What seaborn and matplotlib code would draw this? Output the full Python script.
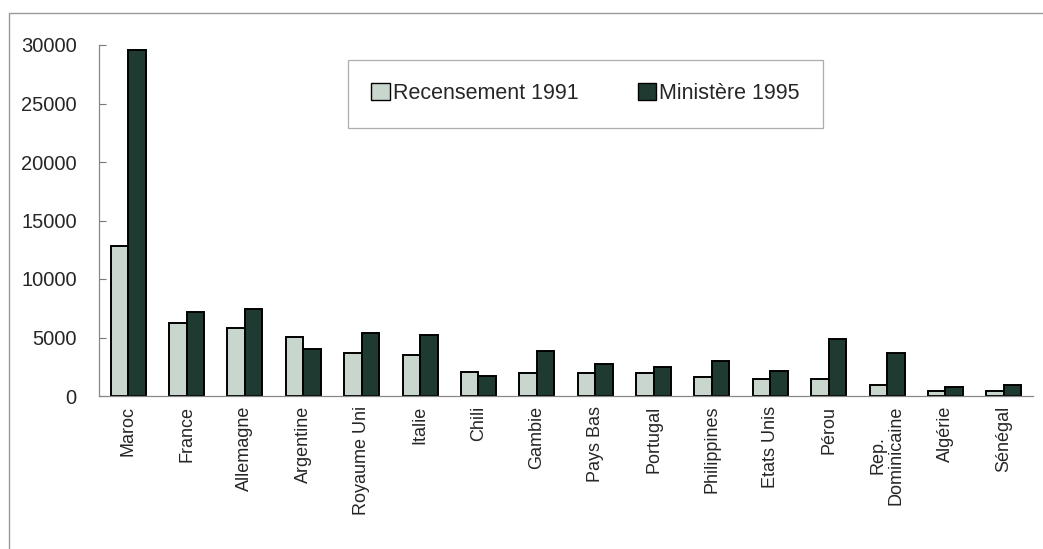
import matplotlib
matplotlib.use('Agg')
import matplotlib.pyplot as plt
from matplotlib.lines import Line2D
from matplotlib.patches import Patch
import seaborn as sns
import pandas as pd
import numpy as np

countries = ['Maroc', 'France', 'Allemagne', 'Argentine', 'Royaume Uni', 'Italie',
             'Chili', 'Gambie', 'Pays Bas', 'Portugal', 'Philippines', 'Etats Unis',
             'Pérou', 'Rep.\nDominicaine', 'Algérie', 'Sénégal']
recensement_1991 = [12800, 6220, 5840, 5020, 3650, 3480, 2080, 1940, 1940, 1940,
                    1600, 1480, 1480, 940, 400, 400]
ministere_1995 = [29600, 7200, 7440, 3990, 5360, 5190, 1740, 3820, 2760, 2450,
                  2990, 2110, 4870, 3650, 770, 940]
series = ['Recensement 1991', 'Ministère 1995']
colors = ['#c9d6cd', '#1f3a30']

df = pd.DataFrame({
    'pays': countries * 2,
    'valeur': recensement_1991 + ministere_1995,
    'source': [series[0]] * len(countries) + [series[1]] * len(countries),
})

sns.set_style('white')
plt.rcParams['font.family'] = ['Liberation Sans', 'DejaVu Sans']

fig = plt.figure(figsize=(10.43, 5.49), dpi=100)
ax = fig.add_axes([99 / 1043, 1 - 396 / 549, (1033 - 99) / 1043, (396 - 45) / 549])

sns.barplot(data=df, x='pays', y='valeur', hue='source', hue_order=series,
            palette=colors, width=0.6, edgecolor='black', linewidth=1.4,
            saturation=1, ax=ax, legend=False)

ax.set_ylim(0, 30000)
ax.set_xlim(-0.5, len(countries) - 0.5)
ax.set_yticks(np.arange(0, 30001, 5000))
ax.set_yticklabels([str(v) for v in range(0, 30001, 5000)], fontsize=14.5)
ax.set_xlabel('')
ax.set_ylabel('')
ax.set_xticks(range(len(countries)))
ax.set_xticklabels(countries, rotation=90, fontsize=13, va='top', ha='center',
                   multialignment='center', linespacing=1.1)
ax.set_xticks(np.arange(-0.5, len(countries), 1.0), minor=True)
ax.tick_params(axis='x', which='major', length=0, pad=7)
ax.tick_params(axis='x', which='minor', length=7, direction='inout', color='#777777', width=0.8)
ax.tick_params(axis='y', which='major', length=5, direction='in', color='#777777',
               width=0.8, pad=16, left=True)
for side in ['top', 'right']:
    ax.spines[side].set_visible(False)
for side in ['left', 'bottom']:
    ax.spines[side].set_color('#888888')
    ax.spines[side].set_linewidth(0.9)

handles = [Patch(facecolor=colors[0], edgecolor='black', linewidth=1),
           Patch(facecolor=colors[1], edgecolor='black', linewidth=1)]
leg = ax.legend(handles, series, ncol=2, loc='upper left',
                bbox_to_anchor=((348 - 99) / 934, 1 + (45 - 60) / 351),
                frameon=True, fancybox=False, fontsize=15.5, handlelength=0.85,
                handleheight=0.85, handletextpad=0.15, columnspacing=2.75,
                borderpad=1.08, borderaxespad=0)
leg.get_frame().set_edgecolor('#999999')
leg.get_frame().set_linewidth(0.9)

# outer chart frame (top and left edges only visible)
fig.add_artist(Line2D([9 / 1043, 1], [1 - 13 / 549, 1 - 13 / 549], color='#999999', lw=1))
fig.add_artist(Line2D([9 / 1043, 9 / 1043], [0, 1 - 13 / 549], color='#999999', lw=1))

fig.savefig('out.png', dpi=100)
